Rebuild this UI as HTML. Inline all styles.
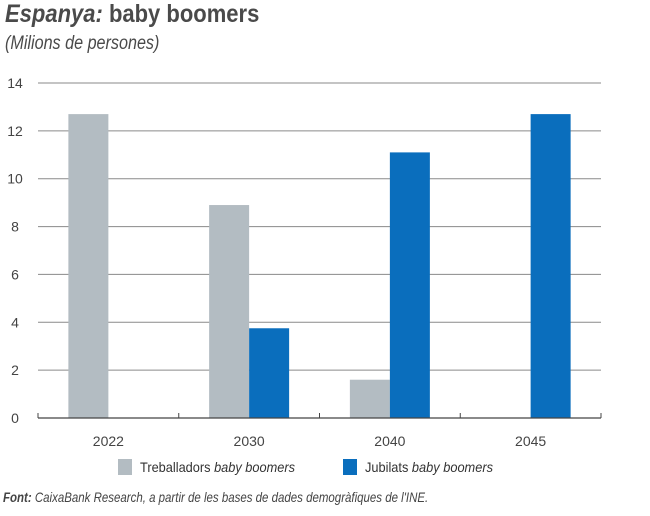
<!DOCTYPE html>
<html><head><meta charset="utf-8"><style>
body{margin:0;background:#fff;font-family:"Liberation Sans",sans-serif;color:#444;}
#wrap{position:relative;width:650px;height:516px;overflow:hidden;}
.t{position:absolute;white-space:nowrap;transform-origin:0 0;}
</style></head><body>
<div id="wrap">
<div class="t" style="left:5px;top:0px;font-size:25px;font-weight:bold;color:#4a4a4a;transform:scaleX(0.88);"><i>Espanya:</i> baby boomers</div>
<div class="t" style="left:5px;top:33px;font-size:19px;font-style:italic;color:#4a4a4a;transform:scaleX(0.85);">(Milions de persones)</div>
<svg id="chart" width="650" height="516" style="position:absolute;left:0;top:0"></svg>
<div class="t" style="left:3px;top:489px;font-size:14px;font-style:italic;color:#444;transform:scaleX(0.82);"><b>Font:</b> CaixaBank Research, a partir de les bases de dades demogràfiques de l'INE.</div>
</div>
<script>
const categories=["2022","2030","2040","2045"];
const workers=[12.7,8.9,1.6,0];
const retirees=[0,3.75,11.1,12.7];
const yTicks=[0,2,4,6,8,10,12,14];
const NS="http://www.w3.org/2000/svg";
const svg=document.getElementById("chart");
const x0=38,x1=601,yBase=418,yTop=83,yMax=14;
const band=(x1-x0)/categories.length;
const y=v=>yBase-(v/yMax)*(yBase-yTop);
function mk(t,a){const e=document.createElementNS(NS,t);for(const k in a)e.setAttribute(k,a[k]);svg.appendChild(e);return e;}
yTicks.forEach(v=>{
  if(v>0){const g=mk("line",{x1:x0,x2:x1,y1:y(v),y2:y(v),stroke:"#8a8a8a","stroke-width":1});
  
  }
  const t=mk("text",{x:15,y:y(v)+5,"text-anchor":"middle","font-size":14,fill:"#444","font-family":"Liberation Sans, sans-serif"});
  t.textContent=v;
  
  
});
const bw=40;
categories.forEach((c,i)=>{
  const cx=x0+band*(i+0.5);
  if(workers[i]>0){const r=mk("rect",{x:cx-bw,y:y(workers[i]),width:bw,height:yBase-y(workers[i]),fill:"#b3bcc2"});
  
  }
  if(retirees[i]>0){const r=mk("rect",{x:cx,y:y(retirees[i]),width:bw,height:yBase-y(retirees[i]),fill:"#0a6ebd"});
  
  }
  const t=mk("text",{x:cx,y:yBase+28,"text-anchor":"middle","font-size":14,fill:"#444","font-family":"Liberation Sans, sans-serif"});
  t.textContent=c;
  
  
});
const ax=mk("line",{x1:x0,x2:x1,y1:yBase,y2:yBase,stroke:"#444","stroke-width":1.3});


for(let i=0;i<=categories.length;i++){
  const tk=mk("line",{x1:x0+band*i,x2:x0+band*i,y1:yBase-5,y2:yBase,stroke:"#444","stroke-width":1});
  
  
}
const leg=[["Treballadors ","#b3bcc2",118],["Jubilats ","#0a6ebd",343]];
leg.forEach(([lab,col,lx])=>{
  const r=mk("rect",{x:lx,y:459,width:14,height:16,fill:col});
  
  
  const t=mk("text",{x:lx+22,y:472,"font-size":14,fill:"#333","font-family":"Liberation Sans, sans-serif",textLength:lab==="Jubilats "?128:155,lengthAdjust:"spacingAndGlyphs"});
  t.textContent=lab;
  const s=document.createElementNS(NS,"tspan");s.setAttribute("font-style","italic");s.textContent="baby boomers";t.appendChild(s);
  
  
});
</script>
</body></html>
